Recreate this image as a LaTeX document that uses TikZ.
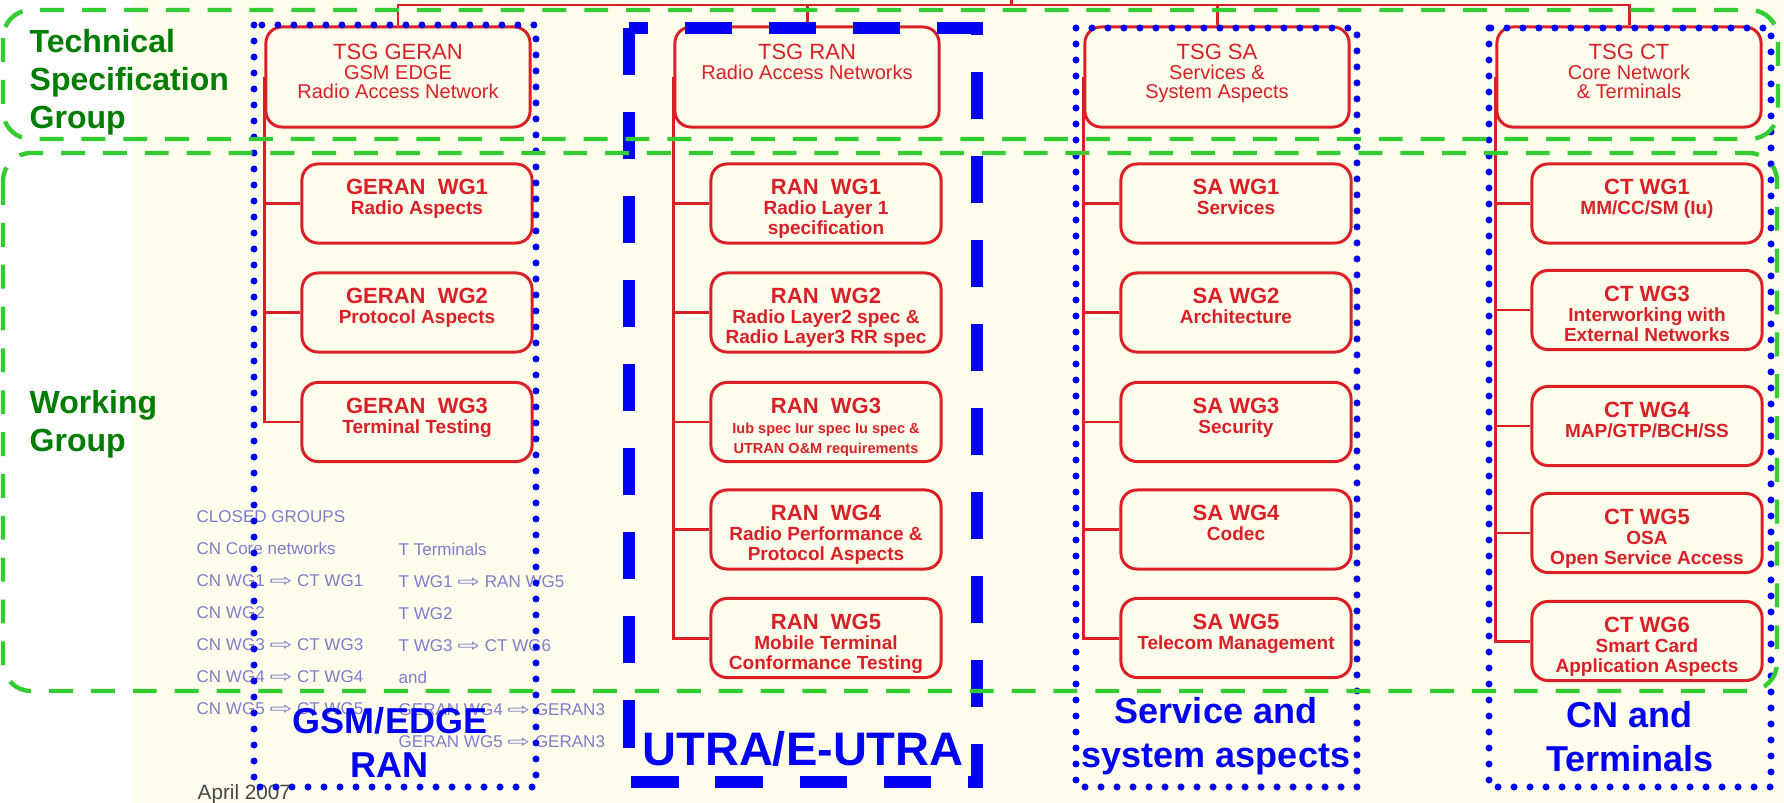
\documentclass[tikz,border=0pt]{standalone}
\usepackage{fontspec}
\setmainfont{Liberation Sans}
\newfontfamily\arrowfont{DejaVu Sans}
\usetikzlibrary{positioning}
\definecolor{tsgred}{RGB}{218,32,38}
\definecolor{frameblue}{RGB}{0,0,245}
\definecolor{bandgreen}{RGB}{51,204,51}
\definecolor{labelgreen}{RGB}{0,125,0}
\definecolor{paper}{RGB}{255,254,236}
\definecolor{closedgrey}{RGB}{125,125,205}
\definecolor{dategrey}{RGB}{70,70,70}
\newcommand{\boxtitle}{\fontsize{6.26}{5.6}\selectfont}
\newcommand{\boxsmall}{\fontsize{4.13}{5.6}\selectfont}
\newcommand{\mergedinto}{\scalebox{1.6}[1]{\arrowfont ⇨}}

\begin{document}
\begin{tikzpicture}[x=0.01cm, y=-0.01cm,
    tsgbox/.style={draw=tsgred, rounded corners=0.16cm, line width=0.85pt,
                   minimum width=2.64cm, minimum height=1.0cm, inner sep=0pt},
    wgbox/.style={draw=tsgred, rounded corners=0.16cm, line width=0.85pt,
                  minimum width=2.30cm, minimum height=0.79cm, inner sep=0pt},
    tsgtext/.style={text=tsgred, align=center, inner sep=0pt,
                    font=\fontsize{5.69}{5.55}\selectfont},
    wgtext/.style={text=tsgred, align=center, inner sep=0pt,
                   font=\fontsize{5.41}{5.69}\selectfont\bfseries},
    bus/.style={draw=tsgred, line width=0.85pt},
    dotframe/.style={draw=frameblue, line width=2pt, line cap=round,
                     dash pattern=on 0pt off 4.55pt},
    dashframe/.style={draw=frameblue, line width=3.4pt,
                      dash pattern=on 13.4pt off 10.5pt},
    band/.style={draw=bandgreen, line width=1.25pt, rounded corners=0.28cm,
                 dash pattern=on 6.8pt off 5.1pt},
    bandlabel/.style={text=labelgreen, align=left, inner sep=0pt, anchor=north west,
                      font=\fontsize{9.1}{10.81}\selectfont\bfseries},
    grouplabel/.style={text=frameblue, align=center, inner sep=0pt,
                       font=\fontsize{10.24}{12.52}\selectfont\bfseries},
    closed/.style={text=closedgrey, align=left, inner sep=0pt, anchor=north west,
                   font=\fontsize{4.84}{9.1}\selectfont},
  ]
  \useasboundingbox (0,0) rectangle (1784,803);
  \fill[white] (0,0) rectangle (1784,803);
  \fill[paper] (133,0) rectangle (1784,803);

  % Technical Specification Groups
  \node[tsgbox] (tsggeran) at (398,77) {};
  \node[tsgtext, below=0.18cm of tsggeran.north] (tsggerant)
    {{\boxtitle TSG GERAN}\\GSM EDGE\\Radio Access Network};
  \node[tsgbox] (tsgran) at (807,77) {};
  \node[tsgtext, below=0.18cm of tsgran.north] (tsgrant)
    {{\boxtitle TSG RAN}\\Radio Access Networks};
  \node[tsgbox] (tsgsa) at (1217,77) {};
  \node[tsgtext, below=0.18cm of tsgsa.north] (tsgsat)
    {{\boxtitle TSG SA}\\Services \&\\System Aspects};
  \node[tsgbox] (tsgct) at (1629,77) {};
  \node[tsgtext, below=0.18cm of tsgct.north] (tsgctt)
    {{\boxtitle TSG CT}\\Core Network\\\& Terminals};

  \coordinate (bus) at (1011,5);
  \coordinate (parent) at (1011,-5);
  \draw[bus] (tsggeran.north) |- (bus) -| (tsgct.north);
  \draw[bus] (tsgran.north) |- (bus);
  \draw[bus] (tsgsa.north) |- (bus);
  \draw[bus] (bus) -- (parent);

  % GERAN working groups
  \node[wgbox] (geran1) at (417,203.5) {};
  \node[wgtext, below=0.16cm of geran1.north] (geran1t)
    {{\boxtitle GERAN~~WG1}\\Radio Aspects};
  \node[wgbox] (geran2) at (417,312.5) {};
  \node[wgtext, below=0.16cm of geran2.north] (geran2t)
    {{\boxtitle GERAN~~WG2}\\Protocol Aspects};
  \node[wgbox] (geran3) at (417,422) {};
  \node[wgtext, below=0.16cm of geran3.north] (geran3t)
    {{\boxtitle GERAN~~WG3}\\Terminal Testing};

  % RAN working groups
  \node[wgbox] (ran1) at (826,203.5) {};
  \node[wgtext, below=0.16cm of ran1.north] (ran1t)
    {{\boxtitle RAN~~WG1}\\Radio Layer 1\\specification};
  \node[wgbox] (ran2) at (826,312.5) {};
  \node[wgtext, below=0.16cm of ran2.north] (ran2t)
    {{\boxtitle RAN~~WG2}\\Radio Layer2 spec \&\\Radio Layer3 RR spec};
  \node[wgbox] (ran3) at (826,422) {};
  \node[wgtext, below=0.16cm of ran3.north] (ran3t)
    {{\boxtitle RAN~~WG3}\\{\boxsmall Iub spec Iur spec Iu spec \&}\\{\boxsmall UTRAN O\&M requirements}};
  \node[wgbox] (ran4) at (826,529.5) {};
  \node[wgtext, below=0.16cm of ran4.north] (ran4t)
    {{\boxtitle RAN~~WG4}\\Radio Performance \&\\Protocol Aspects};
  \node[wgbox] (ran5) at (826,638) {};
  \node[wgtext, below=0.16cm of ran5.north] (ran5t)
    {{\boxtitle RAN~~WG5}\\Mobile Terminal\\Conformance Testing};

  % SA working groups
  \node[wgbox] (sa1) at (1236,203.5) {};
  \node[wgtext, below=0.16cm of sa1.north] (sa1t) {{\boxtitle SA WG1}\\Services};
  \node[wgbox] (sa2) at (1236,312.5) {};
  \node[wgtext, below=0.16cm of sa2.north] (sa2t) {{\boxtitle SA WG2}\\Architecture};
  \node[wgbox] (sa3) at (1236,422) {};
  \node[wgtext, below=0.16cm of sa3.north] (sa3t) {{\boxtitle SA WG3}\\Security};
  \node[wgbox] (sa4) at (1236,529.5) {};
  \node[wgtext, below=0.16cm of sa4.north] (sa4t) {{\boxtitle SA WG4}\\Codec};
  \node[wgbox] (sa5) at (1236,638) {};
  \node[wgtext, below=0.16cm of sa5.north] (sa5t) {{\boxtitle SA WG5}\\Telecom Management};

  % CT working groups
  \node[wgbox] (ct1) at (1647,203.5) {};
  \node[wgtext, below=0.16cm of ct1.north] (ct1t) {{\boxtitle CT WG1}\\MM/CC/SM (Iu)};
  \node[wgbox] (ct3) at (1647,310) {};
  \node[wgtext, below=0.16cm of ct3.north] (ct3t)
    {{\boxtitle CT WG3}\\Interworking with\\External Networks};
  \node[wgbox] (ct4) at (1647,426) {};
  \node[wgtext, below=0.16cm of ct4.north] (ct4t) {{\boxtitle CT WG4}\\MAP/GTP/BCH/SS};
  \node[wgbox] (ct5) at (1647,533) {};
  \node[wgtext, below=0.16cm of ct5.north] (ct5t)
    {{\boxtitle CT WG5}\\OSA\\Open Service Access};
  \node[wgbox] (ct6) at (1647,641) {};
  \node[wgtext, below=0.16cm of ct6.north] (ct6t)
    {{\boxtitle CT WG6}\\Smart Card\\Application Aspects};

  % trunks
  \foreach \i in {1,2,3} \draw[bus] (tsggeran.west) |- (geran\i.west);
  \foreach \i in {1,...,5} \draw[bus] (tsgran.west) |- (ran\i.west);
  \foreach \i in {1,...,5} \draw[bus] (tsgsa.west) |- (sa\i.west);
  \foreach \i in {1,3,4,5,6} \draw[bus] (tsgct.west) |- (ct\i.west);

  % closed groups
  \node[closed] (closedcn) at (196,510)
    {CLOSED GROUPS\\CN Core networks\\CN WG1 \mergedinto{} CT WG1\\CN WG2\\
     CN WG3 \mergedinto{} CT WG3\\CN WG4 \mergedinto{} CT WG4\\CN WG5 \mergedinto{} CT WG5};
  \node[closed] (closedt) at (398,542)
    {T Terminals\\T WG1 \mergedinto{} RAN WG5\\T WG2\\T WG3 \mergedinto{} CT WG6\\and\\
     GERAN WG4 \mergedinto{} GERAN3\\GERAN WG5 \mergedinto{} GERAN3};
  \node[anchor=base west, inner sep=0pt, text=dategrey,
        font=\fontsize{5.89}{7}\selectfont] (date) at (197,799) {April 2007};

  % radio technology frames
  \draw[dotframe] (254,25) rectangle (536,787);
  \draw[dashframe] (629,28) rectangle (977,782);
  \draw[dotframe] (1076,28) rectangle (1357,787);
  \draw[dotframe] (1489,28) rectangle (1771,787);

  \node[grouplabel, anchor=north] (gsmlabel) at (390,707) {GSM/EDGE\\RAN};
  \node[grouplabel, anchor=base, font=\fontsize{13.37}{16}\selectfont\bfseries]
    (utralabel) at (803,765) {UTRA/E-UTRA};
  \node[grouplabel, anchor=north] (salabel) at (1216,697) {Service and\\system aspects};
  \node[grouplabel, anchor=north] (ctlabel) at (1630,701) {CN and\\Terminals};

  % level bands
  \draw[band] (3,10) rectangle (1778,139);
  \draw[band] (3,153) rectangle (1777,691);
  \node[bandlabel] (tsglabel) at (29,29) {Technical\\Specification\\Group};
  \node[bandlabel] (wglabel) at (29,390) {Working\\Group};
\end{tikzpicture}
\end{document}
